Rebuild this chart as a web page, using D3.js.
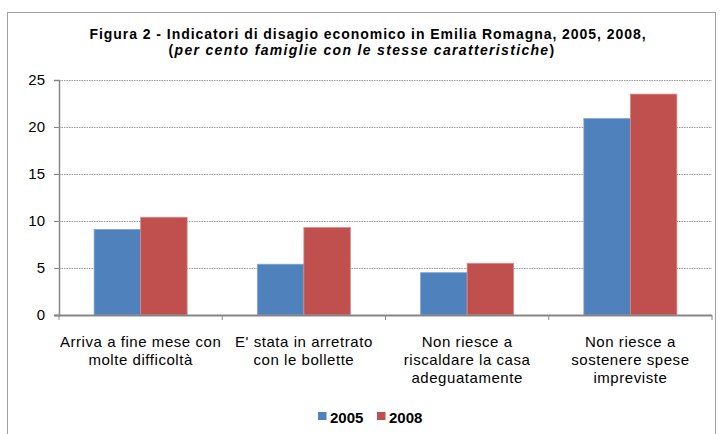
<!DOCTYPE html>
<html><head><meta charset="utf-8">
<script src="https://cdn.jsdelivr.net/npm/d3@7"></script>
<style>body{margin:0;background:#fff;} text{font-family:"Liberation Sans",Arial,sans-serif;}</style>
</head><body>
<svg id="c" width="720" height="434"></svg>
<script>
const categories = [
  ["Arriva a fine mese con","molte difficoltà"],
  ["E' stata in arretrato","con le bollette"],
  ["Non riesce a","riscaldare la casa","adeguatamente"],
  ["Non riesce a","sostenere spese","impreviste"]
];
const series = ["2005","2008"];
const values2005 = [9.1, 5.4, 4.5, 20.9];
const values2008 = [10.4, 9.3, 5.5, 23.5];
const yTicks = [0,5,10,15,20,25];
const colors = ["#4F81BD","#C0504D"];

const svg = d3.select("#c");
svg.append("rect").attr("x",7.5).attr("y",12.5).attr("width",708).attr("height",430)
  .attr("fill","#fff").attr("stroke","#a0a0a0").attr("stroke-width",1);

// stretch a text element's letter spacing so it spans a target width
function fit(sel, target){
  sel.each(function(){
    const n = this.getNumberOfChars();
    const w = this.getComputedTextLength();
    if(n>1) d3.select(this).attr("letter-spacing", ((target-w)/n).toFixed(3));
  });
}

const pL=59, pR=712, pT=80, pB=315;
const x = d3.scaleBand().domain(d3.range(categories.length)).range([pL,pR]);
const y = d3.scaleLinear().domain([0,25]).range([pB,pT]);
const xs = d3.scaleBand().domain(series).range([0, x.bandwidth()]).paddingInner(0).paddingOuter(0.755);

// title
const t = svg.append("text").attr("x",368).attr("y",39).attr("text-anchor","middle")
  .attr("font-size",14).attr("font-weight","bold")
  .text("Figura 2 - Indicatori di disagio economico in Emilia Romagna, 2005, 2008,");
fit(t, 557);
const t2 = svg.append("text").attr("x",362).attr("y",55).attr("text-anchor","middle")
  .attr("font-size",14).attr("font-weight","bold");
t2.append("tspan").text("(");
t2.append("tspan").attr("font-style","italic").text("per cento famiglie con le stesse caratteristiche");
t2.append("tspan").text(")");
fit(t2, 387);

// grid
svg.append("g").selectAll("line").data(yTicks.filter(d=>d>0)).join("line")
  .attr("x1",pL).attr("x2",pR).attr("y1",d=>y(d)+0.5).attr("y2",d=>y(d)+0.5)
  .attr("stroke","#9a9a9a").attr("stroke-width",1).attr("stroke-dasharray","1.5,1");

// bars
const vals = [values2005, values2008];
series.forEach((s,si)=>{
  svg.append("g").selectAll("rect").data(vals[si]).join("rect")
    .attr("x",(d,i)=>x(i)+xs(s)).attr("width",xs.bandwidth())
    .attr("y",d=>y(d)).attr("height",d=>y(0)-y(d))
    .attr("fill",colors[si]).attr("stroke",si===0?"#7fa3d3":"#d88a88").attr("stroke-width",0.8);
});

// y axis
const ya = svg.append("g").attr("transform",`translate(${pL},0)`)
  .call(d3.axisLeft(y).tickValues(yTicks).tickSize(5).tickPadding(9));
ya.select(".domain").attr("stroke","#868686").attr("stroke-width",1.5);
ya.selectAll(".tick line").attr("stroke","#868686");
ya.selectAll("text").attr("font-size",15).attr("fill","#000").attr("font-family","Liberation Sans, Arial, sans-serif");

// x axis
const xa = svg.append("g").attr("transform",`translate(0,${pB})`);
xa.append("line").attr("x1",pL-5).attr("x2",pR).attr("y1",0.5).attr("y2",0.5).attr("stroke","#868686").attr("stroke-width",2);
xa.selectAll("line.tk").data(d3.range(categories.length+1)).join("line").attr("class","tk")
  .attr("x1",i=>pL+i*x.step()).attr("x2",i=>pL+i*x.step()).attr("y1",0).attr("y2",5)
  .attr("stroke","#868686");
const lbl = xa.selectAll("text.cat").data(categories).join("text").attr("class","cat")
  .attr("x",(d,i)=>x(i)+x.bandwidth()/2).attr("y",32).attr("text-anchor","middle").attr("font-size",15)
  .attr("letter-spacing",0.55);
lbl.each(function(d){
  const cx = d3.select(this).attr("x");
  d3.select(this).selectAll("tspan").data(d).join("tspan")
    .attr("x",cx).attr("dy",(dd,j)=>j===0?0:18).text(dd=>dd);
});

// legend
const lg = svg.append("g").attr("transform","translate(318,423)");
series.forEach((s,i)=>{
  const g = lg.append("g").attr("transform",`translate(${i*59},0)`);
  g.append("rect").attr("x",0).attr("y",-11).attr("width",8.5).attr("height",8).attr("fill",colors[i]);
  g.append("text").attr("x",12).attr("y",0).attr("font-size",15).attr("font-weight","bold").text(s);
});
</script>
</body></html>
